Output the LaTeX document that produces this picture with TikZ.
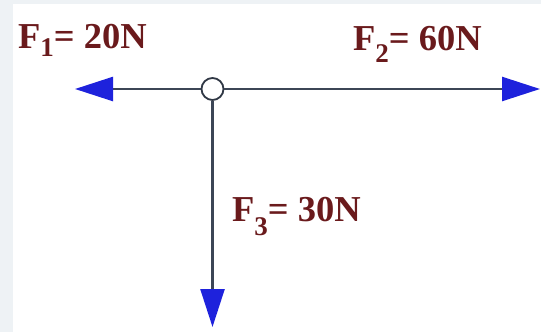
\documentclass[tikz,border=0pt]{standalone}
\usepackage{fontspec}
\setmainfont{Liberation Serif}
\usetikzlibrary{arrows.meta}
\definecolor{lbl}{HTML}{6A1A1C}
\definecolor{tipblue}{HTML}{1E22DC}
\definecolor{linegray}{HTML}{3C4656}
\definecolor{frame}{HTML}{EEF2F5}
\newcommand{\forcelabel}[3]{\fontsize{36.5}{38}\selectfont\bfseries F\raisebox{-#3pt}{\fontsize{27}{28}\selectfont #1}= #2N}
\begin{document}
\begin{tikzpicture}[x=1pt,y=-1pt,
  force/.style={draw=linegray, line width=2.4pt,
    -{Triangle[length=38pt,width=24pt,color=tipblue]}},
  joint/.style={circle, draw=linegray!80!black, fill=white, line width=1.8pt,
    minimum size=22pt, inner sep=0pt},
  flabel/.style={anchor=base west, inner sep=0pt, text=lbl}]
\useasboundingbox (0,0) rectangle (541,332);
\fill[white] (0,0) rectangle (541,332);
\fill[frame] (0,0) rectangle (13,332);
\fill[frame] (0,0) rectangle (541,4);
\node[joint] (O) at (212.5,89) {};
\coordinate (L) at (75,89);
\coordinate (R) at (540,89);
\coordinate (D) at (212.5,327);
\draw[force] (O.west) -- (L);
\draw[force] (O.east) -- (R);
\draw[force] (O.south) -- (D);
\node[flabel] (f1) at (18,48) {\forcelabel{1}{20}{9}};
\node[flabel] (f2) at (353,50) {\forcelabel{2}{60}{12}};
\node[flabel] (f3) at (232,221) {\forcelabel{3}{30}{14}};
\end{tikzpicture}
\end{document}
